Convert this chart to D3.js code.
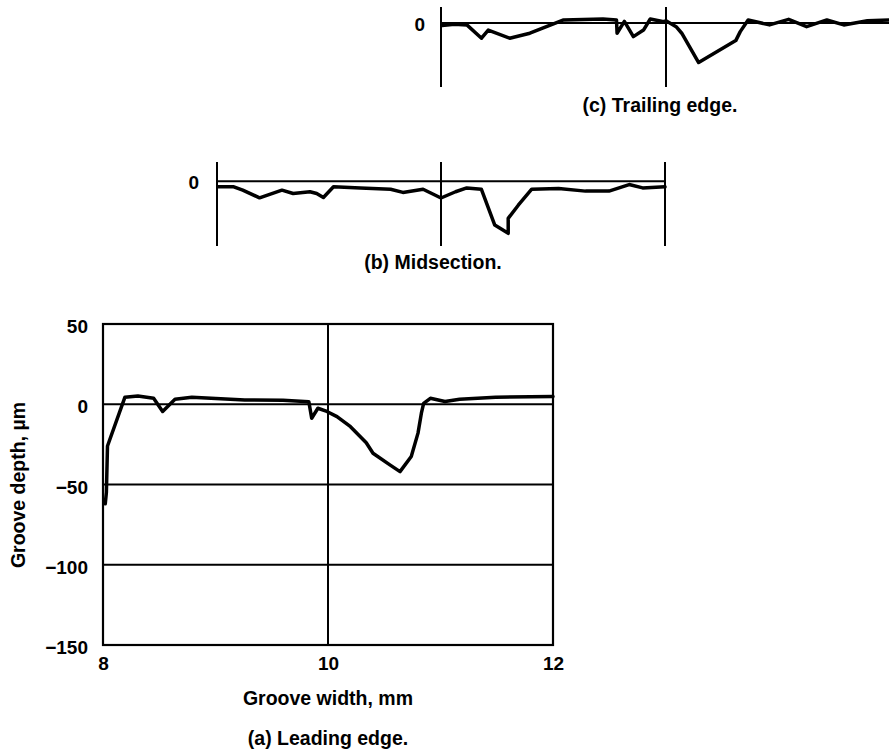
<!DOCTYPE html>
<html>
<head>
<meta charset="utf-8">
<script src="https://cdn.jsdelivr.net/npm/d3@7"></script>
<style>
  body { margin: 0; background: #fff; }
  svg text { font-family: "Liberation Sans", Arial, Helvetica, sans-serif; font-weight: bold; fill: #000; }
</style>
</head>
<body>
<div class="chart"></div>
<script>
// tick values
const widthTicks = [8, 10, 12];
const depthTicks = [50, 0, -50, -100, -150];

// (a) leading edge, groove width in mm / depth in micrometres
const leadingWidth = [8.02, 8.03, 8.04, 8.195, 8.31, 8.45, 8.53, 8.64, 8.79, 9.26, 9.6, 9.83, 9.855, 9.91, 9.99, 10.08, 10.2, 10.34, 10.4, 10.55, 10.64, 10.74, 10.8, 10.83, 10.85, 10.91, 11.04, 11.17, 11.49, 12.0];
const leadingDepth = [-62, -55, -26, 4.4, 5.2, 3.7, -4.5, 3.1, 4.4, 2.7, 2.5, 1.5, -8.7, -2.5, -4.5, -7.7, -14, -24, -30.5, -37.8, -42, -32.6, -18, -5.6, 0.6, 3.7, 1.7, 3.1, 4.4, 4.8];

// (b) midsection
const midWidth = [8.01, 8.15, 8.23, 8.38, 8.58, 8.68, 8.83, 8.89, 8.95, 9.04, 9.28, 9.55, 9.66, 9.84, 10.0, 10.13, 10.23, 10.36, 10.48, 10.6, 10.6, 10.69, 10.81, 11.05, 11.29, 11.5, 11.68, 11.8, 12.0];
const midDepth = [-3.5, -3.5, -5.6, -10.4, -5.6, -7.7, -6.6, -7.7, -10.2, -3.5, -4.2, -5, -7, -5, -10.5, -6.6, -4.2, -5, -27.4, -32.6, -23.2, -15, -5, -4.5, -6.2, -6.2, -2.1, -4.2, -3.5];

// (c) trailing edge
const trailingWidth = [8.01, 8.12, 8.23, 8.36, 8.42, 8.61, 8.79, 9.09, 9.44, 9.56, 9.565, 9.63, 9.71, 9.8, 9.86, 9.98, 10.0, 10.09, 10.14, 10.29, 10.62, 10.66, 10.73, 10.92, 11.09, 11.25, 11.43, 11.58, 11.79, 12.0];
const trailingDepth = [-1.5, -0.8, -1.2, -9.5, -4.4, -9.5, -6.4, 1.9, 2.5, 1.9, -6.4, 1.0, -8.5, -4.4, 2.5, 0.8, 1.4, -2.3, -6.4, -24.7, -11, -5.4, 1.9, -1.2, 2.3, -2.3, 1.9, -1.2, 1.4, 1.9];

const svg = d3.select(".chart")
  .append("svg")
  .attr("width", 889)
  .attr("height", 755);

function zip(xs, ys) {
  return xs.map((x, i) => ({ w: x, d: ys[i] }));
}

function drawLine(g, x, y, data) {
  const line = d3.line().x((d) => x(d.w)).y((d) => y(d.d));
  g.append("path")
    .datum(data)
    .attr("d", line)
    .attr("fill", "none")
    .attr("stroke", "#000")
    .attr("stroke-width", 3.5)
    .attr("stroke-linejoin", "round")
    .attr("stroke-linecap", "round");
}

// ---------- (a) Leading edge ----------
{
  const x = d3.scaleLinear().domain([8, 12]).range([103, 553]);
  const y = d3.scaleLinear().domain([-150, 50]).range([645, 324]);
  const g = svg.append("g");

  // horizontal grid
  g.append("g")
    .selectAll("line")
    .data(depthTicks.filter((d) => d > -150 && d < 50))
    .join("line")
    .attr("x1", x(8)).attr("x2", x(12))
    .attr("y1", (d) => y(d)).attr("y2", (d) => y(d))
    .attr("stroke", "#000").attr("stroke-width", 2);

  // vertical grid
  g.append("line")
    .attr("x1", x(10)).attr("x2", x(10))
    .attr("y1", y(50)).attr("y2", y(-150))
    .attr("stroke", "#000").attr("stroke-width", 2);

  g.append("rect")
    .attr("x", x(8)).attr("y", y(50))
    .attr("width", x(12) - x(8)).attr("height", y(-150) - y(50))
    .attr("fill", "none").attr("stroke", "#000").attr("stroke-width", 2.2);

  const yAxis = g.append("g")
    .attr("transform", "translate(" + x(8) + ",0)")
    .call(d3.axisLeft(y).tickValues(depthTicks).tickSize(0).tickPadding(15));
  yAxis.select(".domain").remove();
  yAxis.selectAll("text").style("font-size", "19px").attr("dy", "0.45em");

  const xAxis = g.append("g")
    .attr("transform", "translate(0," + y(-150) + ")")
    .call(d3.axisBottom(x).tickValues(widthTicks).tickFormat(d3.format("d")).tickSize(0).tickPadding(12));
  xAxis.select(".domain").remove();
  xAxis.selectAll("text").style("font-size", "19px");

  drawLine(g, x, y, zip(leadingWidth, leadingDepth));

  g.append("text")
    .attr("x", 328).attr("y", 705)
    .attr("text-anchor", "middle")
    .style("font-size", "19.5px")
    .text("Groove width, mm");

  g.append("text")
    .attr("transform", "translate(25,485) rotate(-90)")
    .attr("text-anchor", "middle")
    .style("font-size", "19.5px")
    .text("Groove depth, µm");

  g.append("text")
    .attr("x", 328).attr("y", 745)
    .attr("text-anchor", "middle")
    .style("font-size", "19.5px")
    .text("(a) Leading edge.");
}

// ---------- (b) Midsection ----------
{
  const x = d3.scaleLinear().domain([8, 12]).range([217, 665]);
  const y = d3.scaleLinear().domain([-40.5, 12]).range([246, 162]);
  const g = svg.append("g");

  g.append("line")
    .attr("x1", x(8)).attr("x2", x(12))
    .attr("y1", y(0)).attr("y2", y(0))
    .attr("stroke", "#000").attr("stroke-width", 2);

  g.append("g")
    .selectAll("line")
    .data(widthTicks)
    .join("line")
    .attr("x1", (d) => x(d)).attr("x2", (d) => x(d))
    .attr("y1", y(12)).attr("y2", y(-40.5))
    .attr("stroke", "#000").attr("stroke-width", 2);

  const yAxis = g.append("g")
    .attr("transform", "translate(" + x(8) + ",0)")
    .call(d3.axisLeft(y).tickValues([0]).tickSize(0).tickPadding(18));
  yAxis.select(".domain").remove();
  yAxis.selectAll("text").style("font-size", "19px").attr("dy", "0.4em");

  drawLine(g, x, y, zip(midWidth, midDepth));

  g.append("text")
    .attr("x", 433).attr("y", 269)
    .attr("text-anchor", "middle")
    .style("font-size", "19.5px")
    .text("(b) Midsection.");
}

// ---------- (c) Trailing edge ----------
{
  const x = d3.scaleLinear().domain([8, 10]).range([441, 666]);
  const y = d3.scaleLinear().domain([-40, 10]).range([87, 7]);
  const g = svg.append("g");

  g.append("line")
    .attr("x1", x(8)).attr("x2", x(12))
    .attr("y1", y(0)).attr("y2", y(0))
    .attr("stroke", "#000").attr("stroke-width", 2);

  g.append("g")
    .selectAll("line")
    .data(widthTicks)
    .join("line")
    .attr("x1", (d) => x(d)).attr("x2", (d) => x(d))
    .attr("y1", y(10)).attr("y2", y(-40))
    .attr("stroke", "#000").attr("stroke-width", 2);

  const yAxis = g.append("g")
    .attr("transform", "translate(" + x(8) + ",0)")
    .call(d3.axisLeft(y).tickValues([0]).tickSize(0).tickPadding(16));
  yAxis.select(".domain").remove();
  yAxis.selectAll("text").style("font-size", "19px").attr("dy", "0.4em");

  drawLine(g, x, y, zip(trailingWidth, trailingDepth));

  g.append("text")
    .attr("x", 660).attr("y", 112)
    .attr("text-anchor", "middle")
    .style("font-size", "19.5px")
    .text("(c) Trailing edge.");
}
</script>
</body>
</html>
